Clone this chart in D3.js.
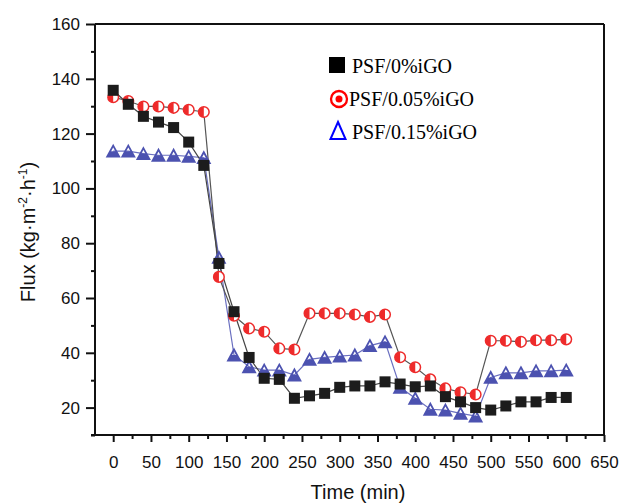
<!DOCTYPE html>
<html><head><meta charset="utf-8">
<script src="https://cdn.jsdelivr.net/npm/d3@7"></script>
<style>body{margin:0;background:#fff}svg{display:block}</style>
</head><body><svg id="c" width="619" height="504"></svg>
<script>
const times = [0,20,40,60,80,100,120,140,160,180,200,220,240,260,280,300,320,340,360,380,400,420,440,460,480,500,520,540,560,580,600];
const psf0 = [135.8,130.7,126.3,124.2,122.2,116.9,108.4,72.6,55.0,38.3,30.7,30.3,23.4,24.3,25.2,27.4,27.9,27.9,29.4,28.6,27.6,27.9,24.0,22.1,20.0,19.1,20.6,22.1,22.1,23.7,23.7];
const psf005 = [133.3,131.9,129.9,129.9,129.4,128.7,127.9,67.7,53.5,48.9,47.7,41.6,41.2,54.4,54.4,54.4,54.0,53.1,54.0,38.4,34.7,30.3,27.0,25.6,24.8,44.4,44.4,44.0,44.6,44.6,44.9];
const psf015 = [113.6,113.6,112.7,112.1,112.1,111.7,111.2,74.8,39.2,34.9,33.7,33.7,31.9,37.6,38.3,38.8,39.2,42.6,44.0,27.4,23.4,19.4,19.1,17.9,16.9,31.0,32.7,32.7,33.4,33.4,33.7];
const seriesNames = ["PSF/0%iGO","PSF/0.05%iGO","PSF/0.15%iGO"];
const xTicks = [0,50,100,150,200,250,300,350,400,450,500,550,600,650];
const yTicks = [20,40,60,80,100,120,140,160];

const svg = d3.select("#c");
const L=95, R=604, T=24, B=435;
const x = d3.scaleLinear().domain([-24.1,650]).range([L,R]);
const y = d3.scaleLinear().domain([10,160]).range([B,T]);
const font = "'Liberation Sans', Arial, sans-serif";

// frame top/right
svg.append("line").attr("x1",L).attr("x2",R).attr("y1",T).attr("y2",T).attr("stroke","#111").attr("stroke-width",2);
svg.append("line").attr("x1",R).attr("x2",R).attr("y1",T).attr("y2",B).attr("stroke","#111").attr("stroke-width",2);

// x axis
const gx = svg.append("g").attr("transform",`translate(0,${B})`);
gx.call(d3.axisBottom(x).tickValues(d3.range(25,650,50)).tickSize(4).tickFormat(""));
gx.call(g=>g.select(".domain").remove());
const gx2 = svg.append("g").attr("transform",`translate(0,${B})`);
gx2.call(d3.axisBottom(x).tickValues(xTicks).tickSize(7).tickPadding(14).tickFormat(d3.format("d")));
gx2.select(".domain").attr("d",`M${L-4},0H${R}`);
[gx,gx2].forEach(g=>{g.selectAll("line,path").attr("stroke","#111").attr("stroke-width",2);});
gx2.selectAll("text").attr("font-family",font).attr("font-size",17).attr("fill","#111");

// y axis
const gy = svg.append("g").attr("transform",`translate(${L},0)`);
gy.call(d3.axisLeft(y).tickValues(d3.range(10,160,20)).tickSize(4).tickFormat(""));
gy.call(g=>g.select(".domain").remove());
const gy2 = svg.append("g").attr("transform",`translate(${L},0)`);
gy2.call(d3.axisLeft(y).tickValues(yTicks).tickSize(9).tickPadding(6).tickFormat(d3.format("d")));
gy2.select(".domain").attr("d",`M0,${B}V${T}`);
[gy,gy2].forEach(g=>{g.selectAll("line,path").attr("stroke","#111").attr("stroke-width",2);});
gy2.selectAll("text").attr("font-family",font).attr("font-size",17).attr("fill","#111");

// axis titles
svg.append("text").attr("x",358).attr("y",499).attr("text-anchor","middle").attr("font-family",font).attr("font-size",20).attr("fill","#111").text("Time (min)");
const yt = svg.append("text").attr("transform","translate(35,232) rotate(-90)").attr("text-anchor","middle").attr("font-family",font).attr("font-size",20).attr("fill","#111");
yt.append("tspan").text("Flux (kg·m");
yt.append("tspan").attr("dy",-8).attr("font-size",12).text("-2");
yt.append("tspan").attr("dy",8).text("·h");
yt.append("tspan").attr("dy",-8).attr("font-size",12).text("-1");
yt.append("tspan").attr("dy",8).text(")");

const line = d3.line().x((d,i)=>x(times[i])).y(d=>y(d));
const red="#ee2b2b", blue="#4c52b0";

// lines
svg.append("path").datum(psf015).attr("d",line).attr("fill","none").attr("stroke","#6a6fc0").attr("stroke-width",1.2);
svg.append("path").datum(psf005).attr("d",line).attr("fill","none").attr("stroke","#555").attr("stroke-width",1.2);
svg.append("path").datum(psf0).attr("d",line).attr("fill","none").attr("stroke","#444").attr("stroke-width",1.2);

// blue triangles (bottom half filled)
const tri = svg.append("g");
psf015.forEach((v,i)=>{
  const cx=x(times[i]), cy=y(v), h=11, w=12;
  const g=tri.append("g").attr("transform",`translate(${cx},${cy})`);
  g.append("path").attr("d",`M${-w/2*0.5},0 L${w/2*0.5},0 L${w/2},${h/2} L${-w/2},${h/2}Z`).attr("fill",blue);
  g.append("path").attr("d",`M0,${-h/2} L${w/2},${h/2} L${-w/2},${h/2}Z`).attr("fill","none").attr("stroke",blue).attr("stroke-width",1.8).attr("stroke-linejoin","miter");
});

// red half-filled circles
const circ = svg.append("g");
psf005.forEach((v,i)=>{
  const cx=x(times[i]), cy=y(v), r=5.3;
  const g=circ.append("g").attr("transform",`translate(${cx},${cy})`);
  g.append("circle").attr("r",r).attr("fill","#fff");
  g.append("path").attr("d",`M0,${-r} A${r},${r} 0 0 0 0,${r} Z`).attr("fill",red);
  g.append("circle").attr("r",r).attr("fill","none").attr("stroke",red).attr("stroke-width",1.5);
});

// black squares
svg.append("g").selectAll("rect").data(psf0).join("rect")
  .attr("x",(d,i)=>x(times[i])-5.5).attr("y",d=>y(d)-5.5).attr("width",11).attr("height",11)
  .attr("fill","#1c1c1c");

// legend
const lf = "'Liberation Serif','Times New Roman',serif";
const lg = svg.append("g");
lg.append("rect").attr("x",329).attr("y",57).attr("width",16).attr("height",16).attr("fill","#000");
lg.append("circle").attr("cx",339).attr("cy",99).attr("r",8).attr("fill","none").attr("stroke","#f00").attr("stroke-width",2.3);
lg.append("circle").attr("cx",339).attr("cy",99).attr("r",3.5).attr("fill","#f00");
lg.append("path").attr("d","M338,122 L345.5,139 L330.5,139 Z").attr("fill","none").attr("stroke","#00f").attr("stroke-width",2);
[[352,73],[349,106],[352,139]].forEach((p,i)=>{
  lg.append("text").attr("x",p[0]).attr("y",p[1]).attr("font-family",lf).attr("font-size",20).attr("fill","#000").text(seriesNames[i]);
});
</script></body></html>
